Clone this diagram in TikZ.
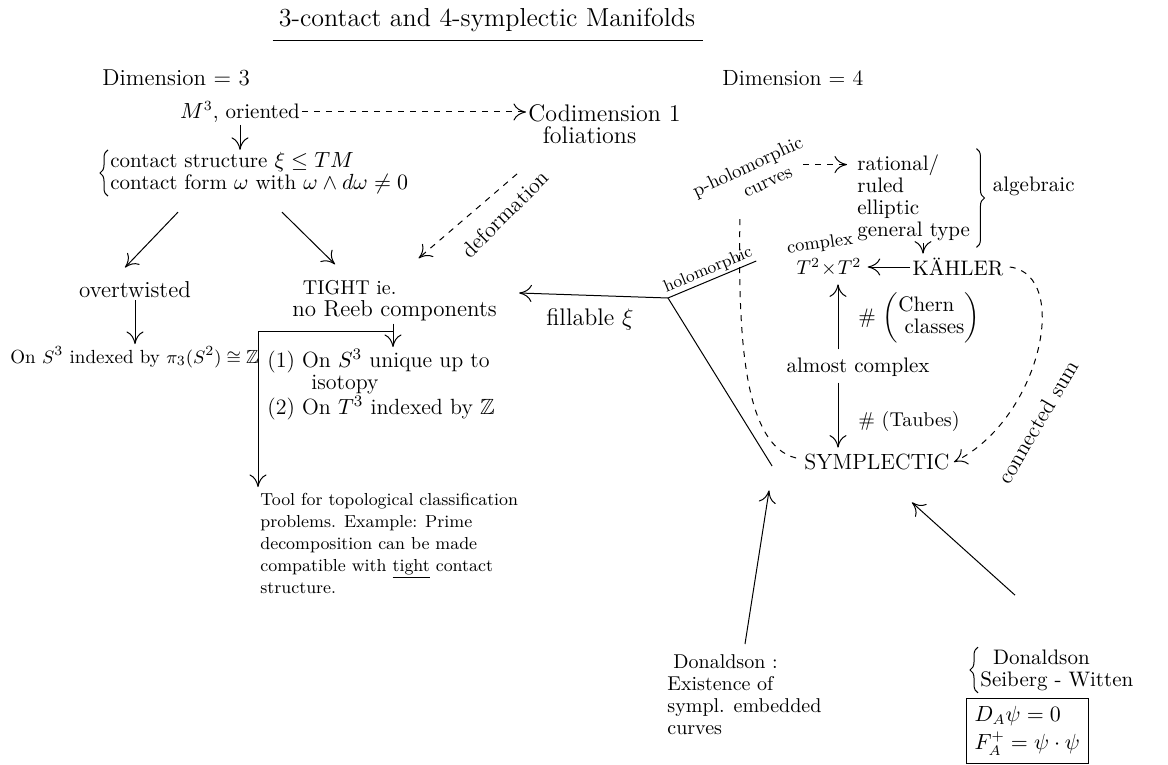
\documentclass[tikz,border=0pt]{standalone}
\usepackage{amsmath,amssymb}
\usepackage{tikz}
\usetikzlibrary{arrows.meta,positioning,calc,decorations.pathreplacing}
\newcommand{\fs}[1]{\fontsize{#1pt}{11pt}\selectfont}
\tikzset{
  note/.style={font=\fs{10.5},inner sep=1pt,align=left},
  arr/.style={-{To[length=2.2mm,width=3mm]},draw=black,line width=0.5pt},
  darr/.style={arr,dashed},
  dline/.style={draw=black,line width=0.5pt,dashed},
  sline/.style={draw=black,line width=0.5pt},
  brc/.style={decorate,decoration={brace,amplitude=4pt},line width=0.5pt},
  eqbox/.style={note,draw=black,line width=0.5pt,inner sep=4pt}
}

\begin{document}
\begin{tikzpicture}[x=0.5pt,y=-0.5pt]
  \useasboundingbox (0,0) rectangle (1168,765);

  \node[note,font=\fs{13}] (title) at (487,20) {3-contact and 4-symplectic Manifolds};
  \draw[sline] ($(title.south west)+(-4,6)$) -- ($(title.south east)+(6,6)$);

  % dimension 3
  \node[note,anchor=west,font=\fs{11.5}] (dimA) at (100,78) {Dimension = 3};
  \node[note,font=\fs{10.5}] (mfd) at (240,112) {$M^3$, oriented};
  \node[note,anchor=north west,font=\fs{12}] (codim) at (526,102) {Codimension 1\\\hspace*{0.6em}foliations};
  \node[note,anchor=west] (cstr) at (108,173) {contact structure $\xi\leq TM$\\contact form $\omega$ with $\omega\wedge d\omega\neq0$};
  \node[note,font=\fs{11.5}] (otw) at (135,290) {overtwisted};
  \node[note,anchor=west] (tight) at (290,301) {\hspace*{0.5em}{\fs{10}TIGHT ie.}\\{\fs{11.5}no Reeb components}};
  \node[note,anchor=west,font=\fs{9.5}] (ons) at (8,357) {On $S^3$ indexed by $\pi_3(S^2)\cong\mathbb{Z}$};
  \node[note,anchor=north west,font=\fs{11}] (cases) at (265,347) {(1) On $S^3$ unique up to\\\hspace*{2em}isotopy\\(2) On $T^3$ indexed by $\mathbb{Z}$};
  \node[note,anchor=north west,font=\fs{8.7}] (tool) at (258,491) {Tool for topological classification\\problems. Example: Prime\\decomposition can be made\\compatible with \underline{tight} contact\\structure.};
  \node[note,rotate=45,font=\fs{11}] (deflbl) at (505,214) {deformation};

  \draw[darr] (mfd.east) -- (mfd.east -| codim.west);
  \draw[arr] (mfd.south) -- (mfd.south |- cstr.north);
  \draw[brc] (cstr.south west) -- (cstr.north west);
  \draw[arr] ($(cstr.south west)+(70,16)$) -- ($(otw.north)+(-10,-12)$);
  \draw[arr] ($(cstr.south west)+(174,16)$) -- ($(tight.north west)+(45,-14)$);
  \draw[darr] ($(codim.south west)+(-9,28)$) -- ($(tight.north)+(24,-20)$);
  \draw[arr] (otw.south) -- (otw.south |- ons.north);

  \coordinate (drop) at ($(tight.south west)+(103,0)$);
  \coordinate (elbow) at ($(tool.north west)+(0,-160)$);
  \draw[arr] (drop) -- (drop |- cases.north);
  \draw[arr] (drop |- elbow) -- (elbow) -- ($(tool.north west)+(0,-4)$);

  % dimension 4
  \node[note,anchor=west,font=\fs{11}] (dimB) at (720,78) {Dimension = 4};
  \node[note,anchor=west] (alg) at (855,198) {rational/\\ruled\\elliptic\\general type};
  \draw[brc] ($(alg.north east)+(4,-4)$) -- ($(alg.south east)+(4,4)$);
  \node[note,anchor=west] (algb) at ($(alg.east)+(18,-12)$) {algebraic};
  \node[note,rotate=25,font=\fs{9.5}] (phol) at (752,176) {p-holomorphic\\\hspace*{2.4em}curves};
  \node[note] (kah) at (958,267) {KÄHLER};
  \node[note,rotate=8,font=\fs{9}] (cplx) at (820,244) {complex};
  \node[note,font=\fs{10}] (tt) at (829,267) {$T^2\!\times\! T^2$};
  \node[note] (acx) at (858,367) {almost complex};
  \node[note,font=\fs{11}] (symp) at (877,462) {SYMPLECTIC};
  \node[note,anchor=west,font=\fs{10.5}] (chern) at (856,318) {\# $\left(\begin{tabular}{@{}l@{}}Chern\\\hspace*{0.3em}classes\end{tabular}\right)$};
  \node[note,anchor=west,font=\fs{10}] (taub) at (856,421) {\# (Taubes)};
  \node[note,rotate=60,font=\fs{11}] (csum) at (1038,422) {connected sum};

  \coordinate (ptop) at (740,214);
  \draw[darr] ($(alg.north west)+(-52,12)$) -- ($(alg.north west)+(-8,12)$);
  \draw[arr] ($(alg.south west)+(68,0)$) -- ($(alg.south west |- kah.north)+(68,-2)$);
  \draw[arr] (kah.west) -- ($(tt.east)+(4,0)$);
  \draw[arr] ($(acx.north)+(-20,-6)$) -- ($(acx.north |- tt.south)+(-20,6)$);
  \draw[arr] ($(acx.south)+(-20,4)$) -- ($(acx.south |- symp.north)+(-20,-4)$);
  \draw[darr] ($(kah.east)+(4,0)$) .. controls (1072,275) and (1040,420) .. ($(symp.east)+(2,0)$);
  \draw[dline] ($(symp.west)+(-6,-4)$) .. controls (742,445) and (738,330) .. (ptop);

  % fillable fork
  \coordinate (fork) at (668,298);
  \coordinate (holoend) at ($(tt.west)+(-38,-6)$);
  \node[note,font=\fs{12}] (fill) at (590,319) {fillable $\xi$};
  \draw[arr] (fork) -- ($(tight.east)+(20,-8)$);
  \draw[sline] (fork) -- (holoend) node[midway,above,sloped,font=\fs{8.5},inner sep=1pt] (holo) {holomorphic};
  \draw[sline] (fork) -- ($(symp.west)+(-30,4)$);

  % lower right
  \node[note,anchor=north west,font=\fs{10}] (don) at (665,652) {\hspace*{0.3em}Donaldson :\\Existence of\\sympl. embedded\\curves};
  \node[note,anchor=west] (swn) at (978,670) {\hspace*{0.6em}Donaldson\\Seiberg - Witten};
  \draw[brc] (swn.south west) -- (swn.north west);
  \node[eqbox,anchor=north west] (sw) at (966,698) {$D_A\psi = 0$\\[2pt]$F^{+}_{A} = \psi\cdot\psi$};
  \draw[arr] ($(don.north west)+(80,-8)$) -- ($(symp.south west)+(-33,18)$);
  \draw[arr] ($(swn.north west)+(37,-52)$) -- ($(symp.south east)+(-40,30)$);
\end{tikzpicture}
\end{document}
